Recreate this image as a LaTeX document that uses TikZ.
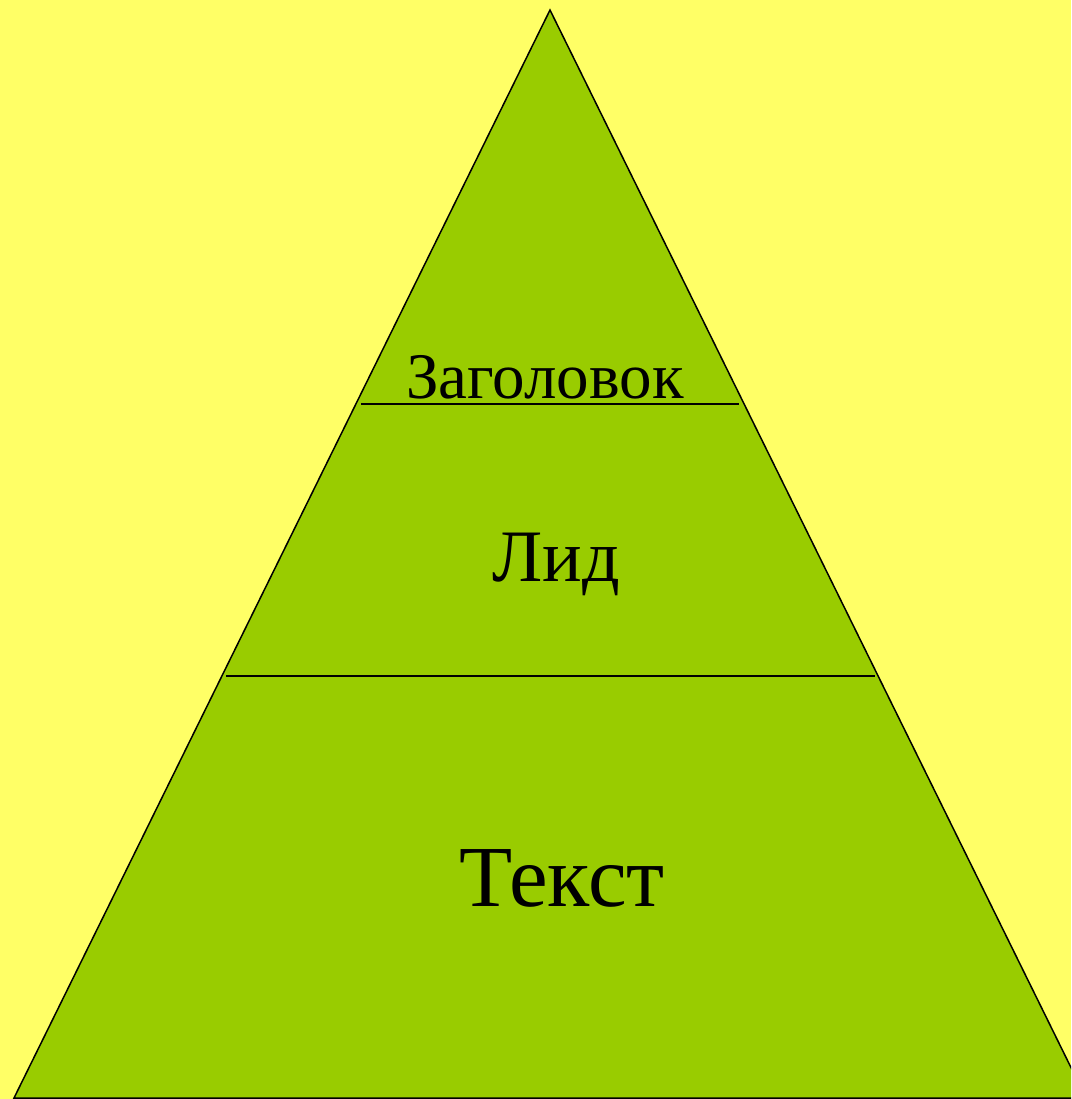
\documentclass[tikz,border=0pt]{standalone}
\usepackage{fontspec}
\setmainfont{Liberation Serif}
\definecolor{bgyellow}{HTML}{FFFF66}
\definecolor{pyrgreen}{HTML}{99CC00}
\begin{document}
\begin{tikzpicture}[x=1pt,y=-1pt,
  edge/.style={draw=black,line width=1.5pt},
  lbl/.style={anchor=base,inner sep=0pt,text=black}]
\useasboundingbox (0,0) rectangle (1071,1099);
\fill[bgyellow] (0,0) rectangle (1071,1099);
\begin{scope}
\clip (0,0) rectangle (1071,1099);
\coordinate (apex) at (550,10);
\coordinate (bl) at (14,1098);
\coordinate (br) at (1086,1098);
\filldraw[fill=pyrgreen,edge] (apex) -- (bl) -- (br) -- cycle;
\end{scope}
\coordinate (a1) at (361,404);
\coordinate (b1) at (739,404);
\coordinate (a2) at (226,676);
\coordinate (b2) at (875,676);
\draw[edge] (a1) -- (b1);
\draw[edge] (a2) -- (b2);
\node[lbl,font=\fontsize{65}{70}\selectfont] (zag) at (545,398) {Заголовок};
\node[lbl,font=\fontsize{74}{80}\selectfont] (lid) at (556,581) {Лид};
\node[lbl,font=\fontsize{87}{90}\selectfont] (txt) at (562,906) {Текст};
\end{tikzpicture}
\end{document}
